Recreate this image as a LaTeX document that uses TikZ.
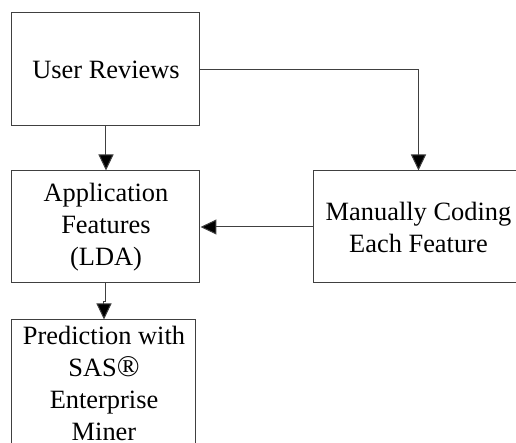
\documentclass[tikz,border=0pt]{standalone}
\usepackage{fontspec}
\setmainfont{Liberation Serif}
\usepackage{tikz}
\usetikzlibrary{
    positioning,
    arrows.meta
}
\definecolor{EdgeGray}{RGB}{64,64,64}

\begin{document}
\begin{tikzpicture}[
    box/.style={rectangle, draw=EdgeGray, line width=0.5pt, align=center, inner sep=1pt, font=\fontsize{13.2}{16}\selectfont, minimum width=94pt, minimum height=56pt},
    arr/.style={draw=EdgeGray, line width=0.5pt, -{Triangle[length=8pt, width=7.5pt, fill=black]}},
]
\useasboundingbox (0,0) rectangle (258pt,-221.5pt);

\node[box, minimum height=56.5pt] (rev) at (53pt,-34.75pt) {User Reviews};
\node[box, below=22pt of rev] (feat) {Application\\Features\\(LDA)};
\node[box, right=56.5pt of feat, minimum width=104.5pt] (code) {Manually Coding\\Each Feature};
\node[box, below right=18pt and 0pt of feat.south west, minimum width=92pt, minimum height=63.5pt] (pred) {Prediction with\\SAS{\fontsize{15}{16}\selectfont ®}\\Enterprise\\Miner};

% connectors
\draw[arr] (rev) -- (feat);
\draw[arr] (rev.east) -| (code.north);
\draw[arr] (code.west) -- (feat.east);
\draw[arr] (feat.south) -- ++(0,-9pt) -| (pred.north);
\end{tikzpicture}
\end{document}
